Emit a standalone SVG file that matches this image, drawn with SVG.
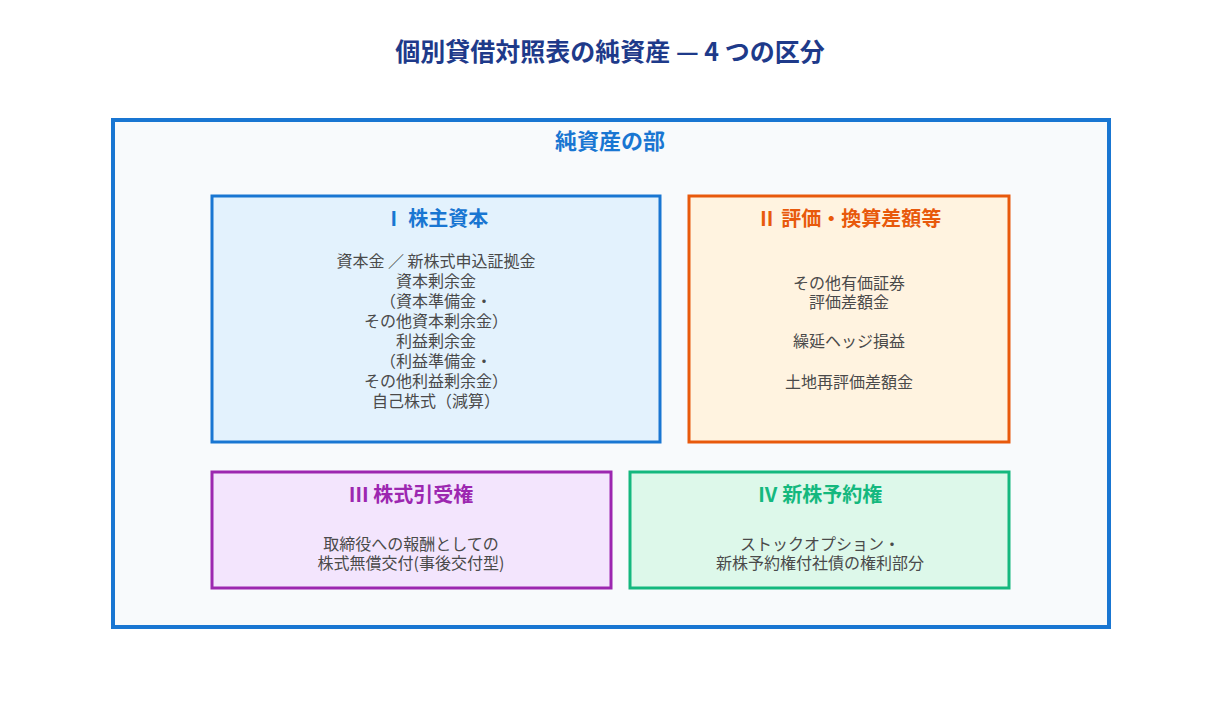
<svg xmlns="http://www.w3.org/2000/svg" width="1221" height="717" viewBox="0 0 1221 717">
<style>
text{font-family:"Noto Sans CJK JP","Noto Sans",sans-serif;text-anchor:middle;dominant-baseline:central}
.t{font-weight:bold;font-size:20px}
.b{font-size:16px;fill:#4a4a4a}
</style>
<rect width="1221" height="717" fill="#fff"/>
<text x="610" y="50" font-size="25" font-weight="bold" fill="#1e3a8a">個別貸借対照表の純資産 — 4 つの区分</text>
<g id="outer">
<rect x="113" y="120" width="996" height="507" fill="#f8fafc" stroke="#1976d2" stroke-width="4"/>
<text x="610" y="139" font-size="22" font-weight="bold" fill="#1976d2">純資産の部</text>
</g>
<g id="n1">
<rect x="212" y="196" width="448" height="246" fill="#e3f2fd" stroke="#1976d2" stroke-width="3"/>
<text class="t" x="436" y="217" fill="#1976d2">Ⅰ 株主資本</text>
<text class="b" x="436" y="260">資本金 ／ 新株式申込証拠金</text>
<text class="b" x="436" y="280">資本剰余金</text>
<text class="b" x="436" y="300">（資本準備金・</text>
<text class="b" x="436" y="320">その他資本剰余金）</text>
<text class="b" x="436" y="340">利益剰余金</text>
<text class="b" x="436" y="360">（利益準備金・</text>
<text class="b" x="436" y="380">その他利益剰余金）</text>
<text class="b" x="436" y="400">自己株式（減算）</text>
</g>
<g id="n2">
<rect x="689" y="196" width="320" height="246" fill="#fff3e0" stroke="#e8590c" stroke-width="3"/>
<text class="t" x="849" y="217" fill="#e8590c" font-size="18">Ⅱ 評価・換算差額等</text>
<text class="b" x="849" y="282">その他有価証券</text>
<text class="b" x="849" y="301">評価差額金</text>
<text class="b" x="849" y="340">繰延ヘッジ損益</text>
<text class="b" x="849" y="381">土地再評価差額金</text>
</g>
<g id="n3">
<rect x="212" y="472" width="399" height="116" fill="#f3e5fd" stroke="#9c27b0" stroke-width="3"/>
<text class="t" x="411" y="493" fill="#9c27b0" font-size="18">Ⅲ 株式引受権</text>
<text class="b" x="411" y="543">取締役への報酬としての</text>
<text class="b" x="411" y="562">株式無償交付(事後交付型)</text>
</g>
<g id="n4">
<rect x="630" y="472" width="379" height="116" fill="#ddf8ea" stroke="#14b87e" stroke-width="3"/>
<text class="t" x="820" y="493" fill="#14b87e" font-size="18">Ⅳ 新株予約権</text>
<text class="b" x="820" y="543">ストックオプション・</text>
<text class="b" x="820" y="562">新株予約権付社債の権利部分</text>
</g>
<g id="connectors"/>
</svg>
